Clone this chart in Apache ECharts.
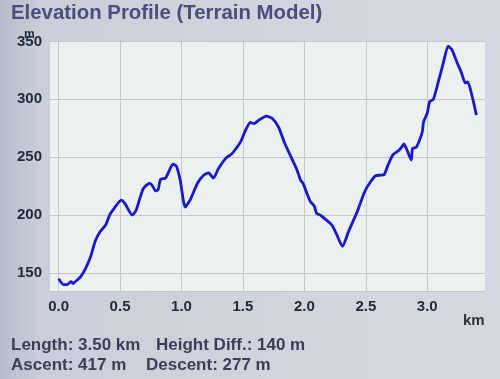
<!DOCTYPE html>
<html>
<head>
<meta charset="utf-8">
<script src="https://cdn.jsdelivr.net/npm/echarts@6/dist/echarts.min.js"></script>
<style>html,body{margin:0;padding:0;}#c{width:500px;height:379px;}</style>
</head>
<body>
<div id="c"></div>
<script>
var titleText = 'Elevation Profile (Terrain Model)';
var summaryLine1 = ['Length: 3.50 km', 'Height Diff.: 140 m'];
var summaryLine2 = ['Ascent: 417 m', 'Descent: 277 m'];
var xTicks = [0, 0.5, 1.0, 1.5, 2.0, 2.5, 3.0];
var yTicks = [150, 200, 250, 300, 350];
var distanceKm = [0.00,0.04,0.07,0.10,0.12,0.13,0.18,0.22,0.26,0.30,0.34,0.38,0.42,0.46,0.51,0.54,0.60,0.63,0.66,0.69,0.74,0.76,0.79,0.81,0.83,0.87,0.89,0.93,0.96,0.99,1.03,1.07,1.13,1.18,1.22,1.26,1.30,1.36,1.41,1.44,1.48,1.52,1.56,1.59,1.63,1.69,1.74,1.79,1.84,1.91,1.94,1.97,1.99,2.02,2.05,2.08,2.10,2.13,2.17,2.21,2.23,2.26,2.31,2.36,2.43,2.49,2.54,2.58,2.62,2.65,2.68,2.72,2.77,2.79,2.81,2.83,2.87,2.88,2.91,2.94,2.96,2.97,3.00,3.02,3.05,3.09,3.13,3.17,3.20,3.24,3.28,3.31,3.33,3.36,3.40];
var elevationM = [145,140,140,142.5,141,142,147,154,164,178,186,191,201,207,213,210,200,204,214,223,227.5,226,221,222,231,232,236,244,242,230,207,213,227.5,234.5,236.5,232,240,249,253,257,263,273,280,279,282,285.5,283.5,276,262,246,239,230,227.5,219,211.5,208,201.5,200,196.5,193,190.5,184,173,186,203,220,229,234,234.5,235,243,252,256,258.5,261.5,257.5,247.5,257.5,258.5,265.5,272,280.5,288,298,300,315,331,346,343,332.5,322.5,314,315,305,286.5];
var yUnit = 'm';
var xUnit = 'km';

var data = distanceKm.map(function (d, i) { return [d, elevationM[i]]; });
var FONT = 'Liberation Sans';
var chart = echarts.init(document.getElementById('c'));
chart.setOption({
  animation: false,
  backgroundColor: {
    type: 'linear', x: 0, y: 0, x2: 1, y2: 0,
    colorStops: [
      { offset: 0, color: '#b6bdcb' },
      { offset: 0.08, color: '#c9ced8' },
      { offset: 0.6, color: '#d1d5dd' },
      { offset: 1, color: '#d5d8df' }
    ]
  },
  textStyle: { fontFamily: FONT },
  title: [
    { text: titleText, left: 11, top: 3, padding: 0,
      textStyle: { fontSize: 20.4, fontWeight: 'bold', color: '#4b4e7c', fontFamily: FONT } },
    { text: summaryLine1[0], left: 11, top: 337, padding: 0,
      textStyle: { fontSize: 17, fontWeight: 'bold', color: '#3b3e56', fontFamily: FONT } },
    { text: summaryLine1[1], left: 156, top: 337, padding: 0,
      textStyle: { fontSize: 17, fontWeight: 'bold', color: '#3b3e56', fontFamily: FONT } },
    { text: summaryLine2[0], left: 11, top: 357, padding: 0,
      textStyle: { fontSize: 17, fontWeight: 'bold', color: '#3b3e56', fontFamily: FONT } },
    { text: summaryLine2[1], left: 146, top: 357, padding: 0,
      textStyle: { fontSize: 17, fontWeight: 'bold', color: '#3b3e56', fontFamily: FONT } }
  ],
  graphic: [{
    type: 'text', x: 24, y: 35, z: 100,
    style: { text: yUnit, fontSize: 12, fontWeight: 'bold', fill: '#1f2b3a', fontFamily: FONT, verticalAlign: 'middle', align: 'left' }
  }],
  grid: {
    left: 50, right: 15, top: 41.4, bottom: 88,
    show: true, backgroundColor: '#ebf0f1', borderWidth: 0
  },
  xAxis: {
    type: 'value', min: -0.07, max: 3.47,
    name: xUnit, nameLocation: 'end', nameGap: -22,
    nameTextStyle: { fontSize: 15, fontWeight: 'bold', color: '#2a3340', verticalAlign: 'top', align: 'left', padding: [22, 0, 0, 0] },
    axisLine: { show: true, lineStyle: { color: '#c3c4c8', width: 1 } },
    axisTick: { show: false, customValues: xTicks },
    axisLabel: { customValues: xTicks, margin: 8, fontSize: 15, fontWeight: 'bold', color: '#1f2b3a',
      formatter: function (v) { return v.toFixed(1); } },
    splitLine: { show: true, lineStyle: { color: '#c6c6c8', width: 1 } }
  },
  yAxis: {
    type: 'value', min: 134.5, max: 350,
    axisLine: { show: true, lineStyle: { color: '#c3c4c8', width: 1 } },
    axisTick: { show: false, customValues: yTicks },
    axisLabel: { customValues: yTicks, margin: 8, fontSize: 15, fontWeight: 'bold', color: '#1f2b3a' },
    splitLine: { show: true, lineStyle: { color: '#c6c6c8', width: 1 } }
  },
  series: [{
    type: 'line', data: data, showSymbol: false, smooth: 0.2,
    lineStyle: { color: '#1818cf', width: 2.8 }
  }]
});
</script>
</body>
</html>
